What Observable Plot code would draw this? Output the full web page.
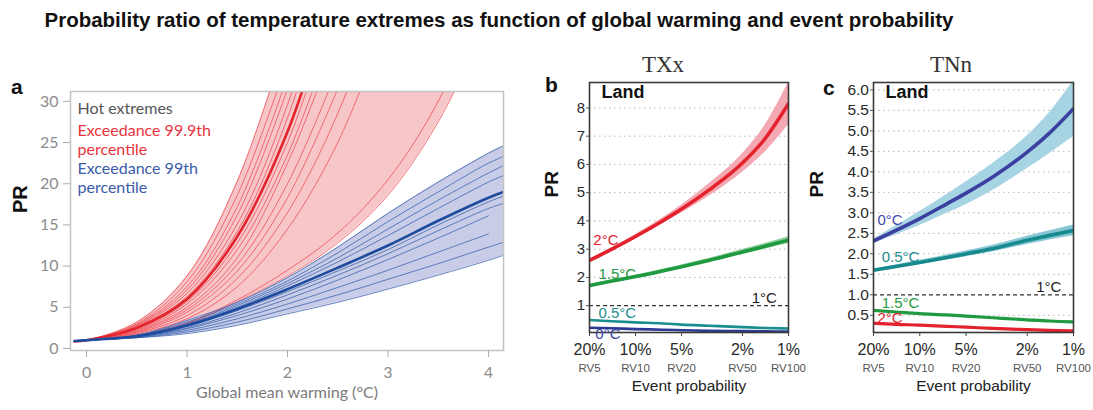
<!DOCTYPE html>
<html><head><meta charset="utf-8">
<script src="https://cdn.jsdelivr.net/npm/d3@7"></script>
<script src="https://cdn.jsdelivr.net/npm/@observablehq/plot@0.6"></script>
<style>
body{margin:0;background:#fff;}
#wrap{position:relative;width:1093px;height:410px;overflow:hidden;font-family:"Liberation Sans",Arial,sans-serif;background:#fff;}
.abs{position:absolute;}
#title{left:0;top:8px;width:998px;text-align:center;font-weight:bold;font-size:20.5px;line-height:24px;color:#111;white-space:nowrap;}
.letter{font-weight:bold;font-size:21px;line-height:21px;color:#111;}
.serif{font-family:"Liberation Serif","DejaVu Serif",serif;font-size:23px;line-height:23px;color:#333;width:100px;text-align:center;}
.abs svg{overflow:visible;}
</style></head>
<body>
<div id="wrap">
  <div id="title" class="abs">Probability ratio of temperature extremes as function of global warming and event probability</div>
  <div class="abs letter" style="left:11px;top:76px;">a</div>
  <div class="abs letter" style="left:545px;top:74px;">b</div>
  <div class="abs letter" style="left:823px;top:77px;">c</div>
  <div class="abs serif" style="left:613px;top:53px;">TXx</div>
  <div class="abs serif" style="left:901px;top:53px;">TNn</div>
  <div id="pa" class="abs" style="left:0;top:60px;"></div>
  <div id="pb" class="abs" style="left:540px;top:60px;"></div>
  <div id="pc" class="abs" style="left:810px;top:60px;"></div>
</div>
<script>
// ---------- Panel a: PR vs global mean warming ----------
const aX = [-0.12, 0, 0.5, 1, 1.5, 2, 2.5, 3, 3.5, 4, 4.15];
const aTicksX = [0, 1, 2, 3, 4];
const aTicksY = [0, 5, 10, 15, 20, 25, 30];

// individual model curves, 99.9th percentile (red)
const redModels = [
  [0.85, 1.0, 3.2, 8.8, 20.3, 38],
  [0.85, 1.0, 3.0, 8.1, 18.6, 35],
  [0.85, 1.0, 2.9, 7.5, 17.2, 33],
  [0.85, 1.0, 2.8, 7.1, 16.2, 31.5],
  [0.85, 1.0, 2.7, 6.7, 15.1, 29.6, 50],
  [0.85, 1.0, 2.6, 6.3, 14.2, 28.0, 48],
  [0.85, 1.0, 2.4, 5.7, 12.8, 25.0, 43],
  [0.85, 1.0, 2.3, 5.4, 12.0, 23.5, 40],
  [0.85, 1.0, 2.2, 5.0, 11.0, 22.5, 38],
  [0.85, 1.0, 2.1, 4.7, 10.2, 20.0, 34],
  [0.85, 1.0, 2.0, 4.4, 9.4, 18.3, 31.5],
  [0.85, 1.0, 1.9, 4.0, 8.5, 16.5, 28.5, 45],
  [0.85, 1.0, 1.8, 3.6, 7.5, 14.5, 25.0, 40],
  [0.85, 1.0, 1.65, 3.1, 5.9, 9.5, 14.0, 20.5, 30.0, 44],
  [0.85, 1.0, 1.6, 3.0, 5.7, 8.8, 12.8, 18.6, 27.5, 40]
];
const redMean = [0.85, 1.0, 2.5, 6.0, 13.6, 26.3, 45];
const redBandLo = [0.85, 1.0, 1.6, 3.0, 5.7, 8.8, 12.8, 18.6, 27.5, 40, 45];
const redBandHi = [0.85, 1.0, 3.2, 8.8, 20.3, 38, 60, 80, 100, 120, 130];

// individual model curves, 99th percentile (blue)
const blueModels = [
  [0.9, 1.0, 1.6, 3.4, 5.6, 8.6, 12.3, 16.4, 20.2, 23.7, 24.6],
  [0.9, 1.0, 1.6, 3.2, 5.4, 8.2, 11.6, 15.4, 19.0, 22.5, 23.3],
  [0.9, 1.0, 1.55, 3.0, 5.2, 7.9, 11.0, 14.5, 18.0, 21.3, 22.2],
  [0.9, 1.0, 1.5, 2.9, 5.0, 7.6, 10.5, 13.7, 17.0, 20.2, 21.0],
  [0.9, 1.0, 1.45, 2.7, 4.6, 6.9, 9.4, 12.0, 15.0, 17.8, 18.5],
  [0.9, 1.0, 1.4, 2.5, 4.3, 6.5, 8.9, 11.5, 14.3, 17.0, 17.6],
  [0.9, 1.0, 1.4, 2.4, 4.0, 6.0, 8.3, 10.8, 13.4, 16.1],
  [0.9, 1.0, 1.35, 2.2, 3.6, 5.4, 7.4, 9.5, 11.7, 13.9],
  [0.9, 1.0, 1.3, 2.0, 3.2, 4.8, 6.5, 8.4, 10.3, 12.3, 12.9],
  [0.9, 1.0, 1.3, 1.8, 2.8, 4.2, 5.6, 7.2, 8.9, 10.7, 11.3]
];
const blueMean = [0.9, 1.0, 1.5, 2.8, 4.8, 7.2, 9.8, 12.5, 15.5, 18.3, 19.0];
const blueBandLo = [0.9, 1.0, 1.3, 1.8, 2.8, 4.2, 5.6, 7.2, 8.9, 10.7, 11.3];
const blueBandHi = [0.9, 1.0, 1.6, 3.4, 5.6, 8.6, 12.3, 16.4, 20.2, 23.7, 24.6];

const legendText = ["Hot extremes", "Exceedance 99.9th\npercentile", "Exceedance 99th\npercentile"];
const legendColor = ["#555555", "#e8343d", "#3b5ba8"];

// ---------- Panels b, c: PR vs event probability ----------
const rv = [5, 7, 10, 15, 20, 30, 50, 70, 100];          // return period (years)
const rvTicks = [5, 10, 20, 50, 100];
const pctLabels = ["20%", "10%", "5%", "2%", "1%"];
const rvLabels = ["RV5", "RV10", "RV20", "RV50", "RV100"];

// TXx
const txx2 = [2.6, 3.0, 3.45, 4.0, 4.42, 5.08, 6.05, 6.9, 8.15];
const txx2Lo = [2.56, 2.95, 3.38, 3.9, 4.28, 4.86, 5.72, 6.42, 7.4];
const txx2Hi = [2.64, 3.05, 3.52, 4.1, 4.56, 5.3, 6.38, 7.38, 8.9];
const txx15 = [1.71, 1.87, 2.03, 2.23, 2.38, 2.6, 2.9, 3.1, 3.32];
const txx15Lo = [1.67, 1.83, 1.98, 2.17, 2.32, 2.53, 2.81, 3.0, 3.2];
const txx15Hi = [1.75, 1.91, 2.08, 2.29, 2.44, 2.67, 2.99, 3.2, 3.44];
const txx05 = [0.49, 0.45, 0.41, 0.37, 0.33, 0.29, 0.24, 0.21, 0.19];
const txx0 = [0.22, 0.2, 0.17, 0.15, 0.13, 0.11, 0.1, 0.09, 0.08];
const txxTicks = [1, 2, 3, 4, 5, 6, 7, 8];
const txxGrid = [2, 3, 4, 5, 6, 7, 8];
const txxLabelText = ["2°C", "1.5°C", "1°C", "0.5°C", "0°C"];
const txxLabelRV = [6.4, 7.6, 69.5, 7.6, 6.6];
const txxLabelPR = [3.33, 2.13, 1.27, 0.72, 0.0];

// TNn
const tnn0 = [2.31, 2.57, 2.86, 3.22, 3.48, 3.88, 4.48, 4.95, 5.54];
const tnn0Lo = [2.25, 2.46, 2.69, 2.99, 3.2, 3.55, 4.08, 4.45, 4.86];
const tnn0Hi = [2.37, 2.68, 3.03, 3.45, 3.76, 4.21, 4.88, 5.45, 6.22];
const tnn05 = [1.6, 1.69, 1.79, 1.91, 2.0, 2.13, 2.33, 2.45, 2.57];
const tnn05Lo = [1.57, 1.65, 1.74, 1.85, 1.93, 2.05, 2.23, 2.34, 2.44];
const tnn05Hi = [1.63, 1.73, 1.84, 1.97, 2.07, 2.21, 2.43, 2.56, 2.7];
const tnn15 = [0.62, 0.58, 0.54, 0.51, 0.48, 0.44, 0.39, 0.36, 0.34];
const tnn2 = [0.31, 0.28, 0.26, 0.23, 0.21, 0.18, 0.15, 0.13, 0.12];
const tnnTicks = [0.5, 1.0, 1.5, 2.0, 2.5, 3.0, 3.5, 4.0, 4.5, 5.0, 5.5, 6.0];
const tnnGrid = [0.5, 1.5, 2.0, 2.5, 3.0, 3.5, 4.0, 4.5, 5.0, 5.5, 6.0];
const tnnLabelText = ["0°C", "0.5°C", "1°C", "1.5°C", "2°C"];
const tnnLabelRV = [6.4, 7.5, 69, 7.5, 6.4];
const tnnLabelPR = [2.82, 1.92, 1.18, 0.8, 0.42];

// ---------- helpers ----------
const seriesRows = (xs, list) => list.flatMap((ys, k) => ys.map((y, i) => ({x: xs[i], y, id: k})));
const lineRows = (xs, ys) => ys.map((y, i) => ({x: xs[i], y}));
const bandRows = (xs, lo, hi) => xs.map((x, i) => ({x, lo: lo[i], hi: hi[i]}));
const labelRows = (t, xs, ys, c) => t.map((s, i) => ({s, x: xs[i], y: ys[i], c: c[i]}));

// ---------- Panel a ----------
const pa = Plot.plot({
  width: 540, height: 350,
  marginLeft: 70, marginRight: 37, marginTop: 31, marginBottom: 60,
  x: {domain: [-0.16, 4.15]},
  y: {domain: [-0.25, 31.2]},
  style: {fontFamily: "Lato, 'Open Sans', sans-serif", background: "transparent"},
  marks: [
    Plot.areaY(bandRows(aX, redBandLo, redBandHi), {x: "x", y1: "lo", y2: "hi", fill: "#f7c6c9", curve: "catmull-rom", clip: true}),
    Plot.areaY(bandRows(aX, blueBandLo, blueBandHi), {x: "x", y1: "lo", y2: "hi", fill: "#c9cce6", curve: "catmull-rom", clip: true}),
    Plot.line(seriesRows(aX, redModels), {x: "x", y: "y", z: "id", stroke: "#ec4a52", strokeWidth: 0.9, strokeOpacity: 0.85, curve: "catmull-rom", clip: true}),
    Plot.line(lineRows(aX, redMean), {x: "x", y: "y", stroke: "#e3232c", strokeWidth: 2.6, curve: "catmull-rom", clip: true}),
    Plot.line(seriesRows(aX, blueModels), {x: "x", y: "y", z: "id", stroke: "#3560ae", strokeWidth: 0.9, strokeOpacity: 0.85, curve: "catmull-rom", clip: true}),
    Plot.line(lineRows(aX, blueMean), {x: "x", y: "y", stroke: "#1d4c9f", strokeWidth: 2.6, curve: "catmull-rom", clip: true}),
    Plot.frame({stroke: "#c4c4c4", strokeWidth: 1.5}),
    Plot.axisY(aTicksY, {tickSize: 7, tickPadding: 5, fontSize: 16, fill: "#8c8c8c", stroke: "#aaa", label: null}),
    Plot.axisX(aTicksX, {tickSize: 7, tickPadding: 9, fontSize: 16, fill: "#8c8c8c", stroke: "#aaa", label: null}),
    Plot.text(["Global mean warming (°C)"], {frameAnchor: "bottom", dy: 47, fontSize: 16, fill: "#7a7a7a"}),
    Plot.text(["PR"], {frameAnchor: "left", dx: -50, dy: -8, rotate: -90, fontSize: 20, fontWeight: "bold", fill: "#111", fontFamily: "Liberation Sans, Arial, sans-serif"}),
    Plot.text([legendText[0]], {frameAnchor: "top-left", lineAnchor: "top", dx: 7, dy: 11, fontSize: 16, fill: legendColor[0]}),
    Plot.text([legendText[1]], {frameAnchor: "top-left", lineAnchor: "top", dx: 7, dy: 31, fontSize: 16, lineHeight: 1.19, fill: legendColor[1]}),
    Plot.text([legendText[2]], {frameAnchor: "top-left", lineAnchor: "top", dx: 7, dy: 69, fontSize: 16, lineHeight: 1.19, fill: legendColor[2]})
  ]
});
document.getElementById("pa").append(pa);

// ---------- Panels b and c ----------
function probPanel(opts) {
  const lbl = labelRows(opts.labelText, opts.labelRV, opts.labelPR, opts.labelColor);
  return Plot.plot({
    width: opts.width, height: 350,
    marginLeft: opts.marginLeft, marginRight: opts.marginRight, marginTop: 22, marginBottom: 78,
    x: {type: "log", domain: [5, 100]},
    y: {domain: opts.yDomain},
    style: {fontFamily: "'Liberation Sans', Arial, sans-serif", background: "transparent"},
    marks: [
      Plot.ruleY(opts.grid, {stroke: "#b5b5b5", strokeDasharray: "1.5,3.5"}),
      ...opts.bands.map(b => Plot.areaY(bandRows(rv, b.lo, b.hi), {x: "x", y1: "lo", y2: "hi", fill: b.fill, curve: "monotone-x", clip: true})),
      Plot.ruleY([1], {stroke: "#333", strokeWidth: 1.2, strokeDasharray: "4,3"}),
      ...opts.lines.map(l => Plot.line(lineRows(rv, l.y), {x: "x", y: "y", stroke: l.stroke, strokeWidth: l.w, curve: "monotone-x", clip: true})),
      Plot.frame({stroke: "#3a3a3a", strokeWidth: 1.6}),
      Plot.axisY(opts.yTicks, {tickSize: 3, tickPadding: 1.5, fontSize: opts.yFont, fill: "#2a2a2a", stroke: "#555", tickFormat: opts.yFormat, label: null}),
      Plot.axisX(rvTicks, {tickSize: 4, fill: "none", stroke: "#444", label: null}),
      Plot.text(rvTicks, {x: d => d, text: (d, i) => pctLabels[i], frameAnchor: "bottom", lineAnchor: "top", dy: 11, fontSize: 16, fill: "#2a2a2a"}),
      Plot.text(rvTicks, {x: d => d, text: (d, i) => rvLabels[i], frameAnchor: "bottom", lineAnchor: "top", dy: 31, fontSize: 11.5, fill: "#555"}),
      Plot.text(["Event probability"], {frameAnchor: "bottom", dy: 58, fontSize: 15.5, fill: "#222"}),
      Plot.text(["PR"], {frameAnchor: "left", dx: opts.prDx, dy: -10, rotate: -90, fontSize: 19, fontWeight: "bold", fill: "#111"}),
      Plot.text(["Land"], {frameAnchor: "top-left", lineAnchor: "top", dx: 12, dy: 3, fontSize: 18, fontWeight: "bold", fill: "#111"}),
      Plot.text(lbl, {x: "x", y: "y", text: "s", fill: "c", fontSize: 15})
    ]
  });
}

const pb = probPanel({
  width: 270, marginLeft: 49, marginRight: 22, yDomain: [0.05, 8.9],
  yTicks: txxTicks, grid: txxGrid, yFont: 15, yFormat: d => String(d), prDx: -38,
  bands: [
    {lo: txx2Lo, hi: txx2Hi, fill: "#f4a9b2"},
    {lo: txx15Lo, hi: txx15Hi, fill: "#8fcf9b"}
  ],
  lines: [
    {y: txx0, stroke: "#2b3a95", w: 2.6},
    {y: txx05, stroke: "#1a8d8e", w: 2.6},
    {y: txx15, stroke: "#1f9a40", w: 3.6},
    {y: txx2, stroke: "#e3222d", w: 3.6}
  ],
  labelText: txxLabelText, labelRV: txxLabelRV, labelPR: txxLabelPR,
  labelColor: ["#e3222d", "#1f9a40", "#222", "#1a8d8e", "#3a44a0"]
});
document.getElementById("pb").append(pb);

const pc = probPanel({
  width: 283, marginLeft: 63, marginRight: 20, yDomain: [0.08, 6.18],
  yTicks: tnnTicks, grid: tnnGrid, yFont: 15.5, yFormat: d => d.toFixed(1), prDx: -57,
  bands: [
    {lo: tnn0Lo, hi: tnn0Hi, fill: "#a7d4e3"},
    {lo: tnn05Lo, hi: tnn05Hi, fill: "#86c6d4"}
  ],
  lines: [
    {y: tnn2, stroke: "#e2222f", w: 3.2},
    {y: tnn15, stroke: "#1f9a40", w: 3.2},
    {y: tnn05, stroke: "#178a8d", w: 3.6},
    {y: tnn0, stroke: "#3b3fa0", w: 3.6}
  ],
  labelText: tnnLabelText, labelRV: tnnLabelRV, labelPR: tnnLabelPR,
  labelColor: ["#4447a8", "#1a8d8e", "#222", "#1f9a40", "#e2222f"]
});
document.getElementById("pc").append(pc);
</script>
</body></html>
